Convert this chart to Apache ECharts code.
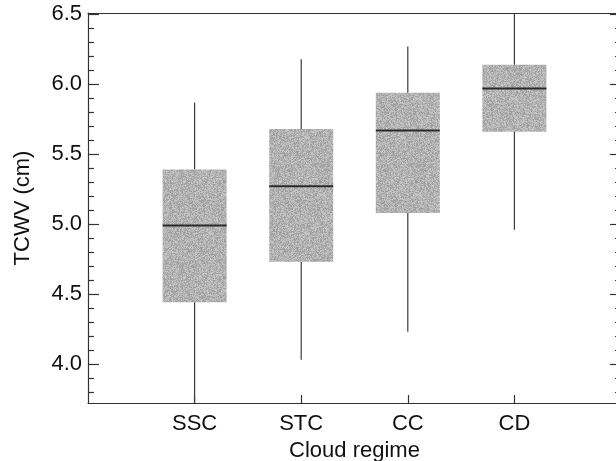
<!DOCTYPE html>
<html>
<head>
<meta charset="utf-8">
<script src="https://cdn.jsdelivr.net/npm/echarts@6/dist/echarts.min.js"></script>
<style>
  html, body { margin: 0; padding: 0; background: #fff; }
  #chart { width: 616px; height: 461px; }
</style>
</head>
<body>
<div id="chart"></div>
<script>
// Total column water vapour per cloud regime (box-and-whisker summary)
const categories = ['SSC', 'STC', 'CC', 'CD'];
const whiskerLow  = [3.65, 4.03, 4.23, 4.96];
const quartile1   = [4.44, 4.73, 5.08, 5.66];
const medians     = [4.99, 5.27, 5.67, 5.97];
const quartile3   = [5.39, 5.68, 5.94, 6.14];
const whiskerHigh = [5.87, 6.18, 6.27, 6.60];

const yMajorTicks = [4.0, 4.5, 5.0, 5.5, 6.0, 6.5];
const yMinorTicks = [3.8, 3.9, 4.1, 4.2, 4.3, 4.4, 4.6, 4.7, 4.8, 4.9,
                     5.1, 5.2, 5.3, 5.4, 5.6, 5.7, 5.8, 5.9, 6.1, 6.2, 6.3, 6.4];
const xPositions = [1, 2, 3, 4];

const Y_MIN = 3.72, Y_MAX = 6.51;
const FONT = '"Liberation Sans", Arial, Helvetica, sans-serif';

// Speckled grey fill for the boxes (seeded generator so every render is identical)
function makeGrainPattern() {
  const size = 96;
  const c = document.createElement('canvas');
  c.width = size; c.height = size;
  const ctx = c.getContext('2d');
  const img = ctx.createImageData(size, size);
  let seed = 12345;
  const next = () => { seed = (seed * 1103515245 + 12345) & 0x7fffffff; return seed / 0x7fffffff; };
  for (let i = 0; i < size * size; i++) {
    const v = Math.round(178 + (next() - 0.5) * 48);
    img.data[i * 4] = v; img.data[i * 4 + 1] = v; img.data[i * 4 + 2] = v; img.data[i * 4 + 3] = 255;
  }
  ctx.putImageData(img, 0, 0);
  return c;
}
const grain = makeGrainPattern();

const boxData = categories.map((_, i) =>
  [xPositions[i], whiskerLow[i], quartile1[i], medians[i], quartile3[i], whiskerHigh[i]]);

const BOX_W = 64;

function renderBox(params, api) {
  const x = api.value(0);
  const pLow = api.coord([x, api.value(1)]);
  const pQ1 = api.coord([x, api.value(2)]);
  const pMed = api.coord([x, api.value(3)]);
  const pQ3 = api.coord([x, api.value(4)]);
  const pHigh = api.coord([x, api.value(5)]);
  const cx = pMed[0];
  const half = BOX_W / 2;
  const whiskerStyle = { stroke: '#3a3a3a', lineWidth: 1.2 };
  return {
    type: 'group',
    children: [
      { type: 'line', shape: { x1: cx, y1: pLow[1], x2: cx, y2: pQ1[1] }, style: whiskerStyle },
      { type: 'line', shape: { x1: cx, y1: pQ3[1], x2: cx, y2: pHigh[1] }, style: whiskerStyle },
      { type: 'rect', shape: { x: cx - half, y: pQ3[1], width: BOX_W, height: pQ1[1] - pQ3[1] },
        style: { fill: { image: grain, repeat: 'repeat' } } },
      { type: 'line', shape: { x1: cx - half, y1: pMed[1], x2: cx + half, y2: pMed[1] },
        style: { stroke: '#2a2a2a', lineWidth: 2 } }
    ]
  };
}

const axisLineStyle = { color: '#333', width: 1.2 };

function yAxisDef(position, ticks, len, withLabels, withLine) {
  return {
    type: 'value', position: position, min: Y_MIN, max: Y_MAX,
    splitLine: { show: false },
    axisLine: { show: withLine, lineStyle: axisLineStyle },
    axisTick: { show: true, inside: true, length: len, customValues: ticks, lineStyle: axisLineStyle },
    axisLabel: withLabels ? {
      customValues: yMajorTicks, margin: 6, color: '#111', fontSize: 22, fontFamily: FONT,
      formatter: v => Number(v).toFixed(1)
    } : { show: false }
  };
}

const yAxes = [
  yAxisDef('left', yMajorTicks, 11, true, true),
  yAxisDef('left', yMinorTicks, 6, false, false),
  yAxisDef('right', yMajorTicks, 11, false, true),
  yAxisDef('right', yMinorTicks, 6, false, false)
];
Object.assign(yAxes[0], {
  name: 'TCWV (cm)', nameLocation: 'middle', nameGap: 54, nameRotate: 90,
  nameTextStyle: { color: '#111', fontSize: 22, fontFamily: FONT }
});

const chart = echarts.init(document.getElementById('chart'), null, { renderer: 'canvas' });
chart.setOption({
  animation: false,
  backgroundColor: '#fff',
  grid: { left: 88, top: 13, width: 533, height: 390, containLabel: false, outerBoundsMode: 'none' },
  xAxis: [
    {
      type: 'value', position: 'bottom', min: 0, max: 5,
      splitLine: { show: false },
      axisLine: { show: true, lineStyle: axisLineStyle },
      axisTick: { show: true, inside: true, length: 8, customValues: xPositions, lineStyle: axisLineStyle },
      axisLabel: {
        customValues: xPositions, margin: 10, color: '#111', fontSize: 22, fontFamily: FONT,
        formatter: v => categories[Math.round(v) - 1] || ''
      },
      name: 'Cloud regime', nameLocation: 'middle', nameGap: 34,
      nameTextStyle: { color: '#111', fontSize: 22, fontFamily: FONT }
    },
    {
      type: 'value', position: 'top', min: 0, max: 5,
      splitLine: { show: false },
      axisLine: { show: true, lineStyle: axisLineStyle },
      axisTick: { show: false }, axisLabel: { show: false }
    }
  ],
  yAxis: yAxes,
  series: [{
    type: 'custom',
    xAxisIndex: 0, yAxisIndex: 0,
    clip: true,
    renderItem: renderBox,
    data: boxData,
    encode: { x: 0, y: [1, 2, 3, 4, 5] }
  }]
});
</script>
</body>
</html>
